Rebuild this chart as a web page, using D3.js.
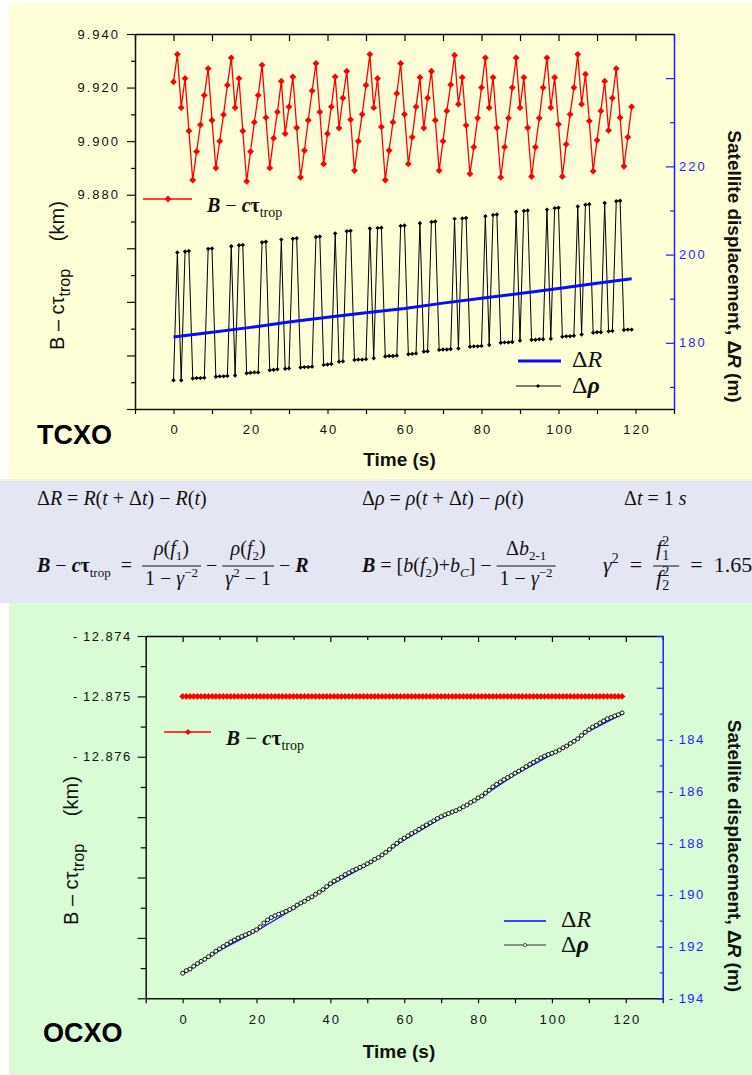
<!DOCTYPE html>
<html>
<head>
<meta charset="utf-8">
<script src="https://cdn.jsdelivr.net/npm/d3@7/dist/d3.min.js"></script>
<style>
html,body{margin:0;padding:0;background:#fff;}
svg{display:block;}
</style>
</head>
<body>
<svg id="fig" width="752" height="1075"></svg>
<script>
// ---------- TCXO receiver: one epoch per second, t = array index ----------
const tcxoBias = [
  9.9221, 9.9324, 9.9125, 9.9234, 9.9038, 9.8855, 9.8961, 9.9061, 9.9171, 9.9271,
  9.9078, 9.8900, 9.9000, 9.9099, 9.9209, 9.9311, 9.9125, 9.9234, 9.9038, 9.8850,
  9.8961, 9.9071, 9.9171, 9.9284, 9.9088, 9.8900, 9.9011, 9.9109, 9.9224, 9.9028,
  9.9128, 9.9240, 9.9050, 9.8865, 9.8965, 9.9078, 9.9188, 9.9290, 9.9109, 9.8915,
  9.9028, 9.9128, 9.9240, 9.9049, 9.9161, 9.9261, 9.9080, 9.8890, 9.9000, 9.9100,
  9.9209, 9.9324, 9.9125, 9.9234, 9.9053, 9.8855, 9.8965, 9.9071, 9.9178, 9.9290,
  9.9100, 9.8915, 9.9015, 9.9128, 9.9238, 9.9049, 9.9161, 9.9261, 9.9078, 9.8890,
  9.9000, 9.9113, 9.9211, 9.9321, 9.9138, 9.9238, 9.9059, 9.8878, 9.8978, 9.9086,
  9.9200, 9.9311, 9.9125, 9.9238, 9.9050, 9.8865, 9.8978, 9.9086, 9.9200, 9.9311,
  9.9125, 9.9238, 9.9050, 9.8868, 9.8978, 9.9086, 9.9200, 9.9311, 9.9125, 9.9238,
  9.9063, 9.8868, 9.8988, 9.9100, 9.9200, 9.9324, 9.9138, 9.9250, 9.9075, 9.8888,
  9.9003, 9.9113, 9.9224, 9.9040, 9.9161, 9.9271, 9.9088, 9.8906, 9.9015, 9.9128
];
const tcxoDeltaRho = [
  171.5, 200.5, 171.5, 200.7, 200.8, 171.9, 172.0, 172.0, 172.1, 201.3,
  201.4, 172.3, 172.4, 172.4, 172.5, 201.9, 172.6, 202.1, 202.2, 173.1,
  173.2, 173.3, 173.3, 202.8, 202.9, 173.8, 173.9, 174.0, 203.4, 174.1,
  174.2, 203.6, 203.7, 174.4, 174.5, 174.5, 174.6, 204.0, 204.1, 175.0,
  175.1, 175.2, 204.8, 175.7, 175.8, 205.3, 205.4, 176.1, 176.2, 176.2,
  176.3, 205.9, 176.5, 206.0, 206.1, 176.9, 177.0, 177.0, 177.1, 206.5,
  206.6, 177.4, 177.5, 177.6, 207.1, 178.0, 178.1, 207.4, 207.5, 178.4,
  178.5, 178.5, 178.6, 208.1, 178.7, 208.2, 208.3, 179.1, 179.2, 179.2,
  179.3, 208.7, 179.5, 209.0, 209.1, 180.0, 180.1, 180.1, 180.2, 209.7,
  180.5, 209.9, 210.0, 180.7, 180.7, 180.8, 180.8, 210.2, 180.9, 210.5,
  210.6, 181.4, 181.5, 181.5, 181.6, 210.9, 181.9, 211.3, 211.4, 182.3,
  182.4, 182.4, 211.7, 182.6, 182.7, 212.1, 212.2, 182.9, 183.0, 183.0
];
const tcxoDeltaRTimes = [0, 10, 20, 30, 40, 50, 60, 70, 80, 90, 100, 110, 119];
const tcxoDeltaR = [181.3, 182.4, 183.5, 184.7, 185.8, 186.8, 187.8, 189.0, 190.1, 191.2, 192.3, 193.5, 194.5];

// ---------- OCXO receiver ----------
const ocxoBias = [
  -12.875, -12.875, -12.875, -12.875, -12.875, -12.875, -12.875, -12.875, -12.875, -12.875,
  -12.875, -12.875, -12.875, -12.875, -12.875, -12.875, -12.875, -12.875, -12.875, -12.875,
  -12.875, -12.875, -12.875, -12.875, -12.875, -12.875, -12.875, -12.875, -12.875, -12.875,
  -12.875, -12.875, -12.875, -12.875, -12.875, -12.875, -12.875, -12.875, -12.875, -12.875,
  -12.875, -12.875, -12.875, -12.875, -12.875, -12.875, -12.875, -12.875, -12.875, -12.875,
  -12.875, -12.875, -12.875, -12.875, -12.875, -12.875, -12.875, -12.875, -12.875, -12.875,
  -12.875, -12.875, -12.875, -12.875, -12.875, -12.875, -12.875, -12.875, -12.875, -12.875,
  -12.875, -12.875, -12.875, -12.875, -12.875, -12.875, -12.875, -12.875, -12.875, -12.875,
  -12.875, -12.875, -12.875, -12.875, -12.875, -12.875, -12.875, -12.875, -12.875, -12.875,
  -12.875, -12.875, -12.875, -12.875, -12.875, -12.875, -12.875, -12.875, -12.875, -12.875,
  -12.875, -12.875, -12.875, -12.875, -12.875, -12.875, -12.875, -12.875, -12.875, -12.875,
  -12.875, -12.875, -12.875, -12.875, -12.875, -12.875, -12.875, -12.875, -12.875, -12.875
];
const ocxoDeltaRho = [
  -193.03, -192.93, -192.87, -192.76, -192.66, -192.57, -192.49, -192.39, -192.29, -192.18,
  -192.09, -192.00, -191.91, -191.82, -191.75, -191.67, -191.61, -191.55, -191.49, -191.42,
  -191.35, -191.24, -191.09, -190.97, -190.88, -190.81, -190.75, -190.70, -190.64, -190.57,
  -190.50, -190.40, -190.32, -190.25, -190.15, -190.08, -189.98, -189.90, -189.80, -189.68,
  -189.57, -189.47, -189.40, -189.32, -189.22, -189.15, -189.07, -189.01, -188.94, -188.88,
  -188.80, -188.73, -188.63, -188.56, -188.46, -188.36, -188.25, -188.12, -188.01, -187.90,
  -187.81, -187.72, -187.63, -187.56, -187.47, -187.38, -187.30, -187.22, -187.14, -187.05,
  -186.98, -186.91, -186.86, -186.80, -186.75, -186.68, -186.60, -186.53, -186.43, -186.36,
  -186.26, -186.18, -186.07, -185.96, -185.83, -185.73, -185.64, -185.55, -185.47, -185.39,
  -185.30, -185.22, -185.14, -185.05, -184.96, -184.88, -184.80, -184.71, -184.64, -184.58,
  -184.53, -184.48, -184.41, -184.32, -184.25, -184.15, -184.07, -183.97, -183.84, -183.72,
  -183.62, -183.52, -183.45, -183.36, -183.28, -183.20, -183.15, -183.09, -183.04, -182.97
];
const ocxoDeltaRTimes = [0, 10, 20, 30, 40, 50, 60, 70, 80, 90, 100, 110, 119];
const ocxoDeltaR = [-193.07, -192.15, -191.40, -190.55, -189.63, -188.85, -187.88, -187.04, -186.31, -185.36, -184.58, -183.68, -183.02];

// ---------- tick values ----------
const timeMajor = [0, 20, 40, 60, 80, 100, 120];
const timeMinor = [-10, 10, 30, 50, 70, 90, 110, 130];
const tcxoLeftMajor = [9.80, 9.82, 9.84, 9.86, 9.88, 9.90, 9.92, 9.94];
const tcxoLeftLabeled = [9.88, 9.90, 9.92, 9.94];
const tcxoLeftMinor = [9.81, 9.83, 9.85, 9.87, 9.89, 9.91, 9.93];
const tcxoRightMajor = [180, 200, 220, 240];
const tcxoRightLabeled = [180, 200, 220];
const tcxoRightMinor = [170, 190, 210, 230];
const ocxoLeftMajor = [-12.880, -12.879, -12.878, -12.877, -12.876, -12.875, -12.874];
const ocxoLeftLabeled = [-12.876, -12.875, -12.874];
const ocxoLeftMinor = [-12.8795, -12.8785, -12.8775, -12.8765, -12.8755, -12.8745];
const ocxoRightMajor = [-194, -192, -190, -188, -186, -184, -182, -180];
const ocxoRightLabeled = [-194, -192, -190, -188, -186, -184];
const ocxoRightMinor = [-193, -191, -189, -187, -185, -183, -181];

// ---------- drawing ----------
const SANS = "'Liberation Sans', Arial, sans-serif";
const SERIF = "'Liberation Serif', 'Times New Roman', serif";
const BLUE = "#1f1fff";
const RED = "#ff0000";
const svg = d3.select("#fig");

// background panels
svg.append("rect").attr("x", 9).attr("y", 3).attr("width", 743).attr("height", 476).attr("fill", "#fefed7");
svg.append("rect").attr("x", 0).attr("y", 479).attr("width", 752).attr("height", 124).attr("fill", "#e4e6f4");
svg.append("rect").attr("x", 0).attr("y", 479).attr("width", 752).attr("height", 2).attr("fill", "#f3f3dc");
svg.append("rect").attr("x", 9).attr("y", 603).attr("width", 743).attr("height", 472).attr("fill", "#d9fcd6");

const has = (arr, d) => arr.some(v => Math.abs(v - d) < 1e-9);
const diamond = r => `M0,${-r}L${r},0L0,${r}L${-r},0Z`;

function styleAxis(g, color, fs, ls) {
  g.selectAll("path.domain").attr("stroke", color).attr("stroke-width", 1.5);
  g.selectAll(".tick line").attr("stroke", color).attr("stroke-width", 1.2);
  g.selectAll(".tick text").attr("fill", color)
    .style("font-family", SANS).style("font-size", fs + "px").style("letter-spacing", ls + "px");
  return g;
}
function minorAxis(parent, axis, tx, ty, color) {
  const g = parent.append("g").attr("transform", `translate(${tx},${ty})`).call(axis);
  g.select(".domain").remove();
  g.selectAll(".tick text").remove();
  g.selectAll(".tick line").attr("stroke", color).attr("stroke-width", 1.2);
}

// rich text runs: [string, flags, dx]
function addRuns(text, runs, subSize) {
  let shift = 0;
  runs.forEach(([s, st = "", dx = 0]) => {
    const f = st.split(" ");
    const ts = text.append("tspan").text(s);
    let target = 0;
    if (f.includes("sub")) target = subSize * 0.38;
    if (f.includes("sup")) target = -subSize * 0.62;
    if (f.includes("sub") || f.includes("sup")) ts.style("font-size", subSize + "px");
    if (f.includes("i")) ts.style("font-style", "italic");
    if (f.includes("b")) ts.style("font-weight", "bold");
    if (target !== shift) ts.attr("dy", target - shift);
    if (dx) ts.attr("dx", dx);
    shift = target;
  });
  return text;
}

// ===================== TCXO panel =====================
const gTop = svg.append("g");
const x1 = d3.scaleLinear().domain([-10, 130]).range([135, 674]);
const yL1 = d3.scaleLinear().domain([9.80, 9.94]).range([409, 34]);
const yR1 = d3.scaleLinear().domain([165, 250]).range([409, 34]);

// axes
styleAxis(gTop.append("g").attr("transform", "translate(0,34)")
  .call(d3.axisTop(x1).tickValues(timeMajor.concat(timeMinor)).tickSizeInner(-7).tickSizeOuter(0).tickFormat("")), "#000", 13, 2);
styleAxis(gTop.append("g").attr("transform", "translate(0,409)")
  .call(d3.axisBottom(x1).tickValues(timeMajor).tickSize(5).tickPadding(11).tickSizeOuter(0)), "#111", 13, 2)
  .selectAll(".tick text").attr("dx", 1);
minorAxis(gTop, d3.axisBottom(x1).tickValues(timeMinor).tickSize(5), 0, 409, "#000");
styleAxis(gTop.append("g").attr("transform", "translate(135,0)")
  .call(d3.axisLeft(yL1).tickValues(tcxoLeftMajor).tickSize(8).tickPadding(7).tickSizeOuter(0)
    .tickFormat(d => has(tcxoLeftLabeled, d) ? d3.format(".3f")(d) : "")), "#111", 13, 2);
minorAxis(gTop, d3.axisLeft(yL1).tickValues(tcxoLeftMinor).tickSize(4), 135, 0, "#000");
styleAxis(gTop.append("g").attr("transform", "translate(674,0)")
  .call(d3.axisRight(yR1).tickValues(tcxoRightMajor).tickSizeInner(-8).tickSizeOuter(0).tickPadding(5)
    .tickFormat(d => has(tcxoRightLabeled, d) ? d : "")), BLUE, 13, 2);
minorAxis(gTop, d3.axisRight(yR1).tickValues(tcxoRightMinor).tickSizeInner(-4).tickSizeOuter(0), 674, 0, BLUE);

// Δρ series (black, small markers)
gTop.append("path").datum(tcxoDeltaRho)
  .attr("d", d3.line().x((d, i) => x1(i)).y(d => yR1(d)))
  .attr("fill", "none").attr("stroke", "#000").attr("stroke-width", 1);
gTop.append("g").selectAll("path").data(tcxoDeltaRho).join("path")
  .attr("transform", (d, i) => `translate(${x1(i)},${yR1(d)})`)
  .attr("d", diamond(2.2)).attr("fill", "#000");

// ΔR series (blue)
gTop.append("path").datum(tcxoDeltaR)
  .attr("d", d3.line().x((d, i) => x1(tcxoDeltaRTimes[i])).y(d => yR1(d)))
  .attr("fill", "none").attr("stroke", "#0a0aff").attr("stroke-width", 3);

// B - c tau series (red)
gTop.append("path").datum(tcxoBias)
  .attr("d", d3.line().x((d, i) => x1(i)).y(d => yL1(d)))
  .attr("fill", "none").attr("stroke", RED).attr("stroke-width", 1.3);
gTop.append("g").selectAll("path").data(tcxoBias).join("path")
  .attr("transform", (d, i) => `translate(${x1(i)},${yL1(d)})`)
  .attr("d", diamond(3.4)).attr("fill", RED);

// legends
gTop.append("line").attr("x1", 143).attr("x2", 192).attr("y1", 199).attr("y2", 199).attr("stroke", RED).attr("stroke-width", 1.3);
gTop.append("path").attr("transform", "translate(168,199)").attr("d", diamond(3.4)).attr("fill", RED);
addRuns(gTop.append("text").attr("x", 207).attr("y", 211.5).attr("xml:space", "preserve")
  .style("font-family", SERIF).style("font-size", "20px").attr("fill", "#111"),
  [["B", "b i"], [" − ", ""], ["c", "b i"], ["τ", "b"], ["trop", "sub"]], 14);

gTop.append("line").attr("x1", 518).attr("x2", 561).attr("y1", 361).attr("y2", 361).attr("stroke", "#0a0aff").attr("stroke-width", 3);
addRuns(gTop.append("text").attr("x", 572).attr("y", 367).style("font-family", SERIF).style("font-size", "24px").attr("fill", "#111"),
  [["Δ", ""], ["R", "i"]], 14);
gTop.append("line").attr("x1", 516).attr("x2", 561).attr("y1", 386).attr("y2", 386).attr("stroke", "#000").attr("stroke-width", 1);
gTop.append("path").attr("transform", "translate(538,386)").attr("d", diamond(2)).attr("fill", "#000");
addRuns(gTop.append("text").attr("x", 572).attr("y", 393).style("font-family", SERIF).style("font-size", "24px").attr("fill", "#111"),
  [["Δ", ""], ["ρ", "b i"]], 14);

// titles
gTop.append("text").attr("x", 399.5).attr("y", 466).attr("text-anchor", "middle")
  .style("font-family", SANS).style("font-size", "19px").style("font-weight", "bold").attr("fill", "#111").text("Time (s)");
addRuns(gTop.append("text").attr("transform", "translate(64,350) rotate(-90)").attr("xml:space", "preserve")
  .style("font-family", SANS).style("font-size", "20px").attr("fill", "#111"),
  [["B – c", ""], ["τ", ""], ["trop", "sub"], ["     (km)", ""]], 16);
addRuns(gTop.append("text").attr("transform", "translate(728,266.5) rotate(90)").attr("text-anchor", "middle")
  .style("font-family", SANS).style("font-size", "19px").style("font-weight", "bold").attr("fill", "#111"),
  [["Satellite displacement, Δ", ""], ["R", "i"], [" (m)", ""]], 14);
gTop.append("text").attr("x", 37).attr("y", 444)
  .style("font-family", SANS).style("font-size", "27px").style("font-weight", "bold").attr("fill", "#000").text("TCXO");

// ===================== formulas =====================
const fg = svg.append("g").style("font-family", SERIF).attr("fill", "#111");
function formula(x, y, size, parts) {
  let cx = x;
  const sub = Math.round(size * 0.65);
  const mk = yy => fg.append("text").attr("y", yy).attr("xml:space", "preserve").style("font-size", size + "px");
  parts.forEach(p => {
    if (p.frac) {
      const num = addRuns(mk(y - 17), p.frac[0], sub);
      const den = addRuns(mk(y + 13), p.frac[1], sub);
      const wn = num.node().getComputedTextLength(), wd = den.node().getComputedTextLength();
      const w = Math.max(wn, wd) + 6;
      num.attr("x", cx + (w - wn) / 2);
      den.attr("x", cx + (w - wd) / 2);
      fg.append("line").attr("x1", cx).attr("x2", cx + w).attr("y1", y - 6).attr("y2", y - 6)
        .attr("stroke", "#111").attr("stroke-width", 1);
      cx += w;
    } else {
      const t = addRuns(mk(y).attr("x", cx), p, sub);
      cx += t.node().getComputedTextLength();
    }
  });
}
formula(37, 505, 20, [[["Δ"], ["R", "i"], [" = "], ["R", "i"], ["("], ["t", "i"], [" + Δ"], ["t", "i"], [")"], [" − "], ["R", "i"], ["("], ["t", "i"], [")"]]]);
formula(362, 505, 20, [[["Δ"], ["ρ", "i"], [" = "], ["ρ", "i"], ["("], ["t", "i"], [" + Δ"], ["t", "i"], [")"], [" − "], ["ρ", "i"], ["("], ["t", "i"], [")"]]]);
formula(624, 505, 20, [[["Δ"], ["t", "i"], [" = 1 "], ["s", "i"]]]);
formula(37, 572, 20, [
  [["B", "b i"], [" − "], ["c", "b i"], ["τ", "b"], ["trop", "sub"], ["  =  "]],
  { frac: [[["ρ", "i"], ["("], ["f", "i"], ["1", "sub"], [")"]], [["1 − "], ["γ", "i"], ["−2", "sup"]]] },
  [[" − "]],
  { frac: [[["ρ", "i"], ["("], ["f", "i"], ["2", "sub"], [")"]], [["γ", "i"], ["2", "sup"], [" − 1"]]] },
  [[" − "], ["R", "b i"]]
]);
formula(362, 572, 20, [
  [["B", "b i"], [" = ["], ["b", "i"], ["("], ["f", "i"], ["2", "sub"], [")+"], ["b", "i"], ["C", "sub i"], ["]"], [" − "]],
  { frac: [[["Δ"], ["b", "i"], ["2-1", "sub"]], [["1 − "], ["γ", "i"], ["−2", "sup"]]] }
]);
formula(603, 572, 22, [
  [["γ", "i"], ["2", "sup"], ["  =  "]],
  { frac: [[["f", "i"], ["1", "sub"], ["2", "sup", -7]], [["f", "i"], ["2", "sub"], ["2", "sup", -7]]] },
  [["  =  1.65"]]
]);

// ===================== OCXO panel =====================
const gBot = svg.append("g");
const x2 = d3.scaleLinear().domain([-10, 130]).range([145.7, 662.7]);
const yL2 = d3.scaleLinear().domain([-12.880, -12.874]).range([998.3, 636]);
const yR2 = d3.scaleLinear().domain([-194, -180]).range([998.3, 636]);
const dashFmt = d => "-\u2009" + d3.format(".3f")(Math.abs(d));
const dashFmtInt = d => "-\u2009" + Math.abs(d);

styleAxis(gBot.append("g").attr("transform", "translate(0,636)")
  .call(d3.axisTop(x2).tickValues(timeMajor).tickSizeInner(-6).tickSizeOuter(0).tickFormat("")), "#000", 13, 2);
minorAxis(gBot, d3.axisTop(x2).tickValues(timeMinor).tickSizeInner(-4).tickSizeOuter(0), 0, 636, "#000");
styleAxis(gBot.append("g").attr("transform", "translate(0,998.3)")
  .call(d3.axisBottom(x2).tickValues(timeMajor).tickSize(5).tickPadding(11).tickSizeOuter(0)), "#111", 13, 2)
  .selectAll(".tick text").attr("dx", 1);
minorAxis(gBot, d3.axisBottom(x2).tickValues(timeMinor).tickSize(5), 0, 998.3, "#000");
styleAxis(gBot.append("g").attr("transform", "translate(145.7,0)")
  .call(d3.axisLeft(yL2).tickValues(ocxoLeftMajor).tickSize(8).tickPadding(6).tickSizeOuter(0)
    .tickFormat(d => has(ocxoLeftLabeled, d) ? dashFmt(d) : "")), "#111", 13, 1.5);
minorAxis(gBot, d3.axisLeft(yL2).tickValues(ocxoLeftMinor).tickSize(5), 145.7, 0, "#000");
styleAxis(gBot.append("g").attr("transform", "translate(662.7,0)")
  .call(d3.axisRight(yR2).tickValues(ocxoRightMajor).tickSizeInner(-6).tickSizeOuter(0).tickPadding(6)
    .tickFormat(d => has(ocxoRightLabeled, d) ? dashFmtInt(d) : "")), BLUE, 13, 1.5);
minorAxis(gBot, d3.axisRight(yR2).tickValues(ocxoRightMinor).tickSizeInner(-3).tickSizeOuter(0), 662.7, 0, BLUE);

// ΔR (blue) and Δρ (open circles)
gBot.append("path").datum(ocxoDeltaR)
  .attr("d", d3.line().x((d, i) => x2(ocxoDeltaRTimes[i])).y(d => yR2(d)))
  .attr("fill", "none").attr("stroke", "#0a0aff").attr("stroke-width", 1.3);
gBot.append("path").datum(ocxoDeltaRho)
  .attr("d", d3.line().x((d, i) => x2(i)).y(d => yR2(d)))
  .attr("fill", "none").attr("stroke", "#111").attr("stroke-width", 1);
gBot.append("g").selectAll("circle").data(ocxoDeltaRho).join("circle")
  .attr("cx", (d, i) => x2(i)).attr("cy", d => yR2(d)).attr("r", 2)
  .attr("fill", "#eef8ec").attr("stroke", "#111").attr("stroke-width", 1);

// B - c tau (red)
gBot.append("path").datum(ocxoBias)
  .attr("d", d3.line().x((d, i) => x2(i)).y(d => yL2(d)))
  .attr("fill", "none").attr("stroke", RED).attr("stroke-width", 1.3);
gBot.append("g").selectAll("path").data(ocxoBias).join("path")
  .attr("transform", (d, i) => `translate(${x2(i)},${yL2(d)})`)
  .attr("d", diamond(3.4)).attr("fill", RED);

// legends
gBot.append("line").attr("x1", 164).attr("x2", 211).attr("y1", 732).attr("y2", 732).attr("stroke", RED).attr("stroke-width", 1.3);
gBot.append("path").attr("transform", "translate(188,732)").attr("d", diamond(3)).attr("fill", RED);
addRuns(gBot.append("text").attr("x", 226).attr("y", 745).attr("xml:space", "preserve")
  .style("font-family", SERIF).style("font-size", "21px").attr("fill", "#111"),
  [["B", "b i"], [" − ", ""], ["c", "b i"], ["τ", "b"], ["trop", "sub"]], 14);
gBot.append("line").attr("x1", 504).attr("x2", 546).attr("y1", 921).attr("y2", 921).attr("stroke", "#0a0aff").attr("stroke-width", 1.5);
addRuns(gBot.append("text").attr("x", 561).attr("y", 927).style("font-family", SERIF).style("font-size", "24px").attr("fill", "#111"),
  [["Δ", ""], ["R", "i"]], 14);
gBot.append("line").attr("x1", 504).attr("x2", 546).attr("y1", 945).attr("y2", 945).attr("stroke", "#333").attr("stroke-width", 1.2);
gBot.append("circle").attr("cx", 525).attr("cy", 945).attr("r", 1.6).attr("fill", "#eef8ec").attr("stroke", "#333").attr("stroke-width", 0.8);
addRuns(gBot.append("text").attr("x", 561).attr("y", 952).style("font-family", SERIF).style("font-size", "24px").attr("fill", "#111"),
  [["Δ", ""], ["ρ", "b i"]], 14);

// titles
gBot.append("text").attr("x", 399).attr("y", 1058).attr("text-anchor", "middle")
  .style("font-family", SANS).style("font-size", "19px").style("font-weight", "bold").attr("fill", "#111").text("Time (s)");
addRuns(gBot.append("text").attr("transform", "translate(78,925) rotate(-90)").attr("xml:space", "preserve")
  .style("font-family", SANS).style("font-size", "20px").attr("fill", "#111"),
  [["B – c", ""], ["τ", ""], ["trop", "sub"], ["     (km)", ""]], 16);
addRuns(gBot.append("text").attr("transform", "translate(728,856) rotate(90)").attr("text-anchor", "middle")
  .style("font-family", SANS).style("font-size", "19px").style("font-weight", "bold").attr("fill", "#111"),
  [["Satellite displacement, Δ", ""], ["R", "i"], [" (m)", ""]], 14);
gBot.append("text").attr("x", 43).attr("y", 1042)
  .style("font-family", SANS).style("font-size", "27px").style("font-weight", "bold").attr("fill", "#000").text("OCXO");
</script>
</body>
</html>
